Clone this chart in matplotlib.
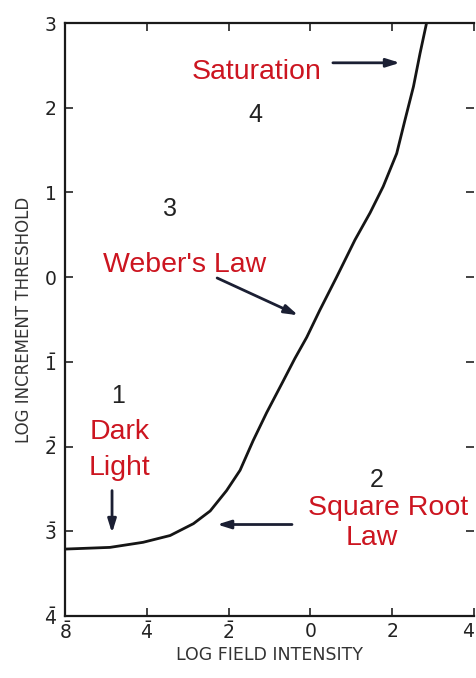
import matplotlib
matplotlib.use("Agg")
import matplotlib.pyplot as plt

# Data
curve_x = [-6.0, -4.9, -4.09, -3.43, -2.86, -2.45, -2.05, -1.72, -1.40, -1.07, -0.68, -0.38,
           -0.09, 0.23, 0.64, 1.09, 1.46, 1.78, 2.11, 2.31, 2.52, 2.68, 2.84]
curve_y = [-3.21, -3.19, -3.13, -3.05, -2.91, -2.76, -2.52, -2.28, -1.93, -1.60, -1.24, -0.96,
           -0.71, -0.39, 0.0, 0.44, 0.76, 1.07, 1.46, 1.85, 2.25, 2.64, 3.0]

x_ticks = [-6, -4, -2, 0, 2, 4]
x_ticklabels = [r'$\bar{8}$', r'$\bar{4}$', r'$\bar{2}$', '0', '2', '4']
y_ticks = [3, 2, 1, 0, -1, -2, -3, -4]
y_ticklabels = ['3', '2', '1', '0', r'$\bar{1}$', r'$\bar{2}$', r'$\bar{3}$', r'$\bar{4}$']

red_labels = ["Saturation", "Weber's Law", "Dark", "Light", "Square Root", "Law"]
red_pos = [(-1.31, 2.42), (-3.07, 0.14), (-4.66, -1.83), (-4.66, -2.25), (1.90, -2.73), (1.51, -3.08)]
num_labels = ['4', '3', '1', '2']
num_pos = [(-1.35, 1.91), (-3.43, 0.81), (-4.70, -1.40), (1.63, -2.40)]
arrows_from = [(0.55, 2.53), (-2.28, -0.01), (-4.85, -2.52), (-0.45, -2.92)]
arrows_to = [(2.19, 2.53), (-0.30, -0.45), (-4.85, -3.02), (-2.28, -2.92)]

fig = plt.figure(figsize=(4.77, 6.78), dpi=100)
ax = fig.add_axes([65/477, 62/678, 409/477, 593/678])

ax.plot(curve_x, curve_y, color='#151515', lw=2.0, solid_capstyle='round', solid_joinstyle='round')

ax.set_xlim(-6, 4)
ax.set_ylim(-4, 3)
ax.set_xticks(x_ticks)
ax.set_xticklabels(x_ticklabels, fontsize=13.5, color='#222222')
ax.get_xticklabels()[-1].set_horizontalalignment('right')
ax.set_yticks(y_ticks)
ax.set_yticklabels(y_ticklabels, fontsize=13.5, color='#222222')
ax.tick_params(direction='in', length=6, width=1.2, top=True, right=True, pad=4, colors='#222222')
ax.tick_params(axis='y', pad=6)
for s in ['left', 'bottom', 'top']:
    ax.spines[s].set_linewidth(1.6)
    ax.spines[s].set_color('#1a1a1a')
ax.spines['right'].set_visible(False)

ax.set_xlabel('LOG FIELD INTENSITY', fontsize=12.5, color='#333333', labelpad=2)
ax.set_ylabel('LOG INCREMENT THRESHOLD', fontsize=12, color='#333333', labelpad=8)

for t, (x, y) in zip(red_labels, red_pos):
    ax.text(x, y, t, color='#cc1520', fontsize=20.5, ha='center', va='center',
            family='Liberation Sans')
for t, (x, y) in zip(num_labels, num_pos):
    ax.text(x, y, t, color='#222222', fontsize=18, ha='center', va='center',
            family='Liberation Sans')
for (x0, y0), (x1, y1) in zip(arrows_from, arrows_to):
    ax.annotate('', xy=(x1, y1), xytext=(x0, y0),
                arrowprops=dict(arrowstyle='-|>,head_length=0.8,head_width=0.25',
                                color='#1b1f33', lw=2.0, shrinkA=0, shrinkB=0))

fig.savefig('out.png', dpi=100)
